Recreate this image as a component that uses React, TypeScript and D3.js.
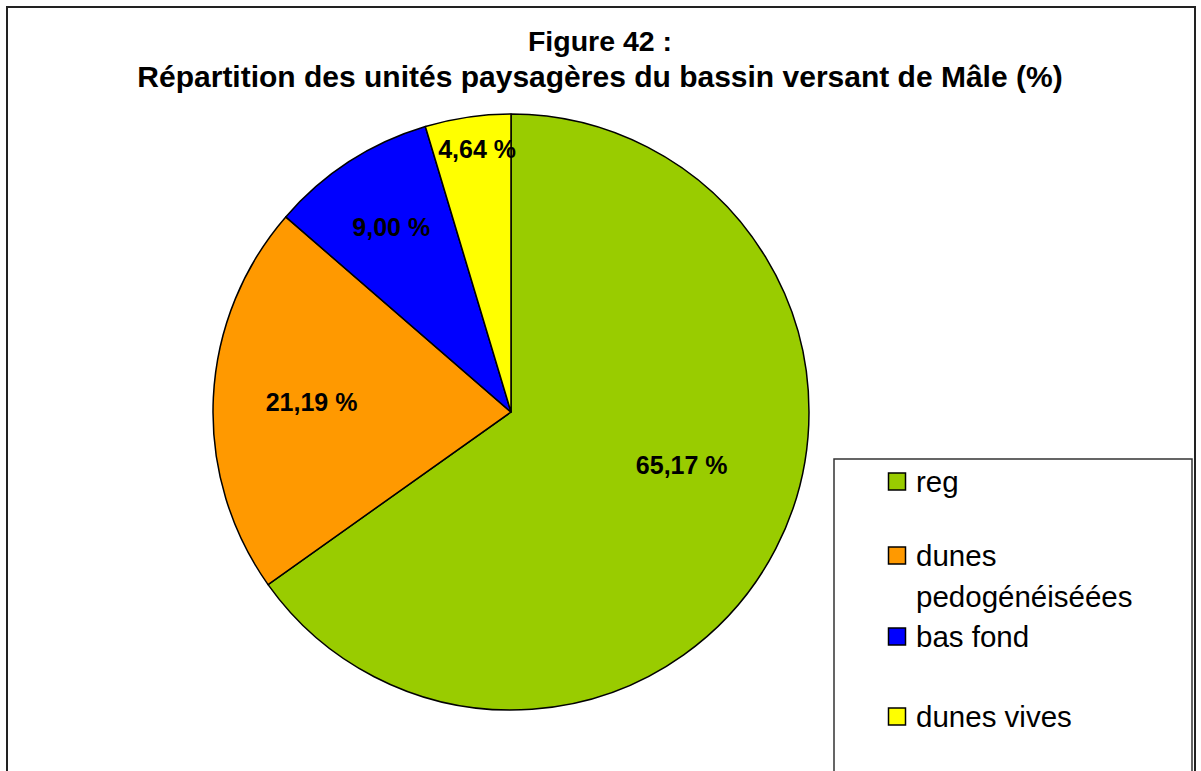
import React from "react";
import * as d3 from "d3";

// Landscape units of the Mâle watershed (% of area)
const categories = ["reg", "dunes pedogénéiséées", "bas fond", "dunes vives"];
const legendLines = [["reg"], ["dunes", "pedogénéiséées"], ["bas fond"], ["dunes vives"]];
const values = [65.17, 21.19, 9.0, 4.64];
const colors = ["#99CC00", "#FF9900", "#0000FF", "#FFFF00"];
const titleLines = ["Figure 42 :", "Répartition des unités paysagères du bassin versant de Mâle (%)"];

const W = 1201;
const H = 771;
const cx = 511;
const cy = 412;
const R = 298;

// label placement: radial fraction and angular nudge (degrees) per slice
const labelLayout = [
  { f: 0.6, nudge: -10 },
  { f: 0.67, nudge: 0 },
  { f: 0.74, nudge: 0 },
  { f: 0.89, nudge: 1 },
];

const fmt = (v: number) => v.toFixed(2).replace(".", ",") + " %";

export default function App() {
  const pie = d3.pie<number>().sort(null).value((d) => d);
  const arcs = pie(values);
  const arc = d3.arc<d3.PieArcDatum<number>>().innerRadius(0).outerRadius(R);

  const legendY = [482, 556, 637, 717];

  return (
    <svg
      width={W}
      height={H}
      style={{ position: "absolute", left: 0, top: 0, background: "#fff" }}
      fontFamily="Arial, 'Liberation Sans', sans-serif"
    >
      <rect x={7} y={7} width={1188} height={820} fill="#fff" stroke="#222" strokeWidth={2} />
      {titleLines.map((t, i) => (
        <text
          key={i}
          x={600}
          y={i === 0 ? 51 : 87}
          textAnchor="middle"
          fontWeight="bold"
          fontSize={i === 0 ? 28.5 : 30}
          fill="#000"
        >
          {t}
        </text>
      ))}
      <g transform={`translate(${cx},${cy})`}>
        {arcs.map((a, i) => (
          <path key={i} d={arc(a) || ""} fill={colors[i]} stroke="#000" strokeWidth={1.5} strokeLinejoin="round" />
        ))}
        {arcs.map((a, i) => {
          const mid = (a.startAngle + a.endAngle) / 2 + (labelLayout[i].nudge * Math.PI) / 180;
          const r = labelLayout[i].f * R;
          const x = r * Math.sin(mid);
          const y = -r * Math.cos(mid);
          return (
            <text
              key={i}
              x={x}
              y={y}
              dy="0.35em"
              textAnchor="middle"
              fontWeight="bold"
              fontSize={25}
              fill="#000"
            >
              {fmt(values[i])}
            </text>
          );
        })}
      </g>
      <rect x={834} y={459} width={358} height={400} fill="#fff" stroke="#333" strokeWidth={1.5} />
      {categories.map((c, i) => (
        <g key={c}>
          <rect x={888.5} y={legendY[i] - 9} width={17} height={17} fill={colors[i]} stroke="#000" strokeWidth={1.5} />
          {legendLines[i].map((ln, j) => (
            <text key={j} x={916} y={legendY[i] + j * 41} dy="0.35em" fontSize={29.5} fill="#000">
              {ln}
            </text>
          ))}
        </g>
      ))}
    </svg>
  );
}
